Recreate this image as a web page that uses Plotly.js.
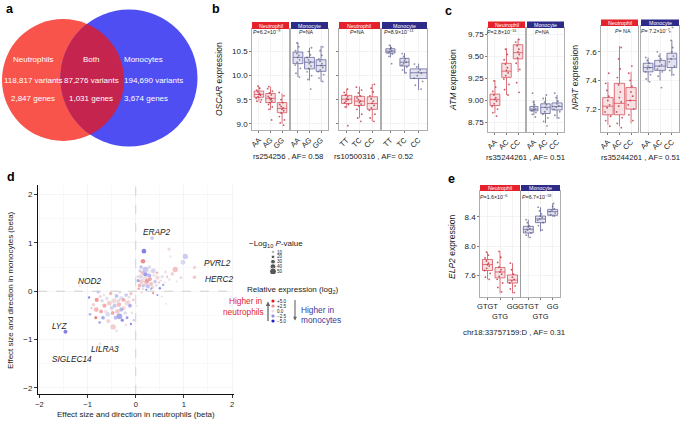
<!DOCTYPE html>
<html><head><meta charset="utf-8">
<script src="https://cdn.plot.ly/plotly-3.0.1.min.js"></script>
<style>html,body{margin:0;padding:0;background:#fff}#chart{width:685px;height:423px}</style>
</head><body><div id="chart"></div>
<script>
// ================= DATA =================
// panel a: Venn
const vennSets = ["Neutrophils", "Both", "Monocytes"];
const vennVariants = [118817, 87276, 194690];
const vennGenes = [2847, 1031, 3674];

// genotype categories
const genoOSCAR1 = ["AA", "AG", "GG"];
const genoOSCAR2 = ["TT", "TC", "CC"];
const genoATM = ["AA", "AC", "CC"];
const genoELP2 = ["GTGT", "GTG", "GG"];
const genoELP2Ticks = ["GTGT", "<br>GTG", "GG"];

// box stats per genotype: [lower whisker, q1, median, q3, upper whisker]
const oscar1Neu = [[9.46,9.55,9.61,9.68,9.77],[9.29,9.44,9.53,9.63,9.77],[9.00,9.23,9.32,9.44,9.63]];
const oscar1Mon = [[9.97,10.25,10.38,10.49,10.69],[9.90,10.14,10.28,10.38,10.58],[9.87,10.09,10.21,10.33,10.62]];
const oscar2Neu = [[9.32,9.42,9.51,9.59,9.73],[9.12,9.38,9.47,9.57,9.77],[9.05,9.30,9.42,9.56,9.83]];
const oscar2Mon = [[10.38,10.47,10.51,10.56,10.64],[10.04,10.20,10.28,10.36,10.47],[9.70,9.94,10.06,10.14,10.25]];
const atmNeu = [[8.85,8.94,9.01,9.07,9.23],[9.06,9.26,9.33,9.42,9.59],[9.32,9.47,9.54,9.63,9.70]];
const atmMon = [[8.83,8.88,8.90,8.93,9.00],[8.74,8.85,8.92,8.96,9.04],[8.79,8.89,8.93,8.97,9.06]];
const npatNeu = [[7.09,7.16,7.22,7.28,7.39],[7.08,7.16,7.24,7.38,7.64],[7.10,7.20,7.26,7.35,7.46]];
const npatMon = [[7.39,7.46,7.49,7.52,7.56],[7.40,7.47,7.50,7.54,7.59],[7.43,7.49,7.55,7.59,7.68]];
const elp2Neu = [[7.55,7.67,7.75,7.82,7.92],[7.36,7.57,7.65,7.71,7.93],[7.36,7.50,7.54,7.61,7.77]];
const elp2Mon = [[8.12,8.18,8.23,8.27,8.36],[8.20,8.32,8.37,8.41,8.53],[8.40,8.42,8.47,8.50,8.58]];

// individual samples (read approximately)
const oscar1NeuPts = [[9.78,9.74,9.70,9.66,9.63,9.61,9.59,9.56,9.53,9.50,9.47,9.45],
  [9.77,9.73,9.68,9.64,9.60,9.57,9.54,9.52,9.50,9.47,9.44,9.40,9.35,9.30,9.08],
  [9.65,9.58,9.50,9.44,9.40,9.36,9.33,9.30,9.27,9.22,9.15,9.08,9.02,8.97]];
const oscar1MonPts = [[10.68,10.60,10.52,10.46,10.42,10.38,10.33,10.28,10.22,10.15,10.05,9.97],
  [10.58,10.50,10.43,10.38,10.33,10.29,10.25,10.20,10.15,10.08,10.00,9.92,9.72],
  [10.60,10.52,10.42,10.35,10.30,10.25,10.21,10.17,10.12,10.08,10.02,9.95,9.88]];
const oscar2NeuPts = [[9.72,9.65,9.60,9.56,9.52,9.50,9.47,9.44,9.40,9.35,8.96],
  [9.76,9.70,9.64,9.58,9.54,9.50,9.47,9.44,9.41,9.37,9.30,9.20,9.12,9.05],
  [9.82,9.74,9.66,9.58,9.52,9.47,9.43,9.38,9.33,9.28,9.20,9.12,9.05]];
const oscar2MonPts = [[10.63,10.58,10.55,10.52,10.50,10.48,10.45,10.40,10.25],
  [10.46,10.40,10.35,10.31,10.28,10.25,10.22,10.18,10.12,10.06],
  [10.24,10.18,10.12,10.08,10.05,10.00,9.95,9.88,9.80,9.72]];
const atmNeuPts = [[9.22,9.15,9.10,9.06,9.03,9.01,8.99,8.96,8.93,8.90,8.86,8.82],
  [9.58,9.52,9.46,9.41,9.37,9.34,9.31,9.28,9.24,9.18,9.12,9.06],
  [9.69,9.66,9.62,9.58,9.55,9.52,9.48,9.42,9.35,9.20,9.09]];
const atmMonPts = [[9.08,8.98,8.95,8.92,8.90,8.89,8.88,8.86,8.84,8.81],
  [9.06,9.02,8.98,8.95,8.92,8.90,8.87,8.84,8.80,8.76,8.71],
  [9.08,9.03,8.99,8.96,8.94,8.92,8.90,8.87,8.83,8.80]];
const npatNeuPts = [[7.45,7.38,7.33,7.29,7.26,7.23,7.21,7.18,7.15,7.12,7.08],
  [7.63,7.55,7.48,7.42,7.37,7.32,7.28,7.25,7.22,7.18,7.14,7.10,7.07],
  [7.50,7.45,7.40,7.36,7.32,7.29,7.26,7.23,7.20,7.16,7.12]];
const npatMonPts = [[7.56,7.54,7.52,7.50,7.49,7.48,7.46,7.44,7.41,7.39],
  [7.60,7.57,7.55,7.53,7.51,7.50,7.48,7.46,7.43,7.35],
  [7.77,7.74,7.68,7.63,7.60,7.57,7.55,7.53,7.50,7.47,7.44]];
const elp2NeuPts = [[7.92,7.88,7.84,7.80,7.77,7.75,7.73,7.70,7.67,7.63,7.58,7.55],
  [7.93,7.85,7.78,7.72,7.68,7.65,7.62,7.59,7.55,7.50,7.44,7.38],
  [7.77,7.68,7.62,7.58,7.55,7.53,7.50,7.46,7.42,7.37]];
const elp2MonPts = [[8.36,8.32,8.28,8.26,8.24,8.22,8.20,8.18,8.15,8.12],
  [8.53,8.48,8.44,8.41,8.39,8.37,8.35,8.32,8.28,8.22],
  [8.58,8.54,8.51,8.49,8.47,8.45,8.43,8.41]];

// panel d: effect sizes (beta), -log10 P, relative expression (log2)
const namedGenes = ["ERAP2","PVRL2","HERC2","NOD2","LYZ","LILRA3","SIGLEC14"];
const namedBetaNeu = [0.34,1.22,1.22,-1.16,-1.46,-0.74,-1.37];
const namedBetaMono = [1.10,0.49,0.29,0.11,-0.84,-1.09,-1.28];
const namedLogP = [22,18,18,12,22,10,5];
const namedRel = [-1.5,1.0,1.8,0.3,-4.5,-0.5,0.0];

const upperBetaNeu = [0.17,0.15,0.20,0.36,0.28,0.69,0.72,1.03,0.98,0.82,
  0.76,0.94,0.70,0.57,0.50,0.36,0.54,0.63,0.22,0.62,
  0.55,0.45,0.40,0.32,0.25,0.12,0.10,0.08,0.15,0.18,
  0.22,0.28,0.35,0.42,0.48,0.05,0.06,0.12,0.30,0.38,
  0.26,0.14,0.09,0.20,0.32,0.44,0.52,0.60,0.65,0.16,
  0.24,0.04,0.11,0.40,0.85,0.45];
const upperBetaMono = [0.83,0.62,0.45,0.42,0.50,0.87,0.72,0.72,0.60,0.45,
  0.36,0.28,0.24,0.13,0.06,-0.04,-0.11,-0.26,0.03,0.40,
  0.30,0.28,0.20,0.15,0.10,0.20,0.30,0.12,0.05,0.28,
  0.18,0.32,0.08,0.12,0.18,0.22,0.05,-0.02,0.25,0.33,
  0.40,0.38,0.42,0.35,0.05,0.38,0.22,0.18,0.30,0.12,
  0.22,0.30,0.50,0.45,0.20,-0.08];
const upperLogP = [28,28,38,30,20,15,10,35,30,35,
  20,12,12,8,8,8,6,5,6,15,
  18,25,20,22,25,30,25,20,15,35,
  30,25,15,12,10,15,10,8,20,18,
  25,20,15,22,10,12,8,6,8,18,
  28,12,18,10,6,5];
const upperRel = [-4.5,4.0,-1.8,-1.2,-0.8,0.8,0.2,-1.5,-1.0,2.0,
  1.2,1.0,0.5,-3.0,-4.0,3.5,0.5,0.2,-4.0,0.5,
  -0.5,1.0,-1.5,2.0,-2.0,1.5,-1.0,2.5,-0.5,0.5,
  1.8,-2.5,1.2,-0.8,1.5,-3.0,3.0,0.8,3.0,-0.3,
  0.2,2.2,-1.5,-3.5,-2.5,2.5,0.8,-0.5,1.8,-1.8,
  2.8,0.8,-2.0,0.0,0.5,-3.5];

const lowerBetaNeu = [-0.34,-0.47,-0.81,-0.82,-0.83,-0.68,-0.57,-0.97,-0.74,-0.60,
  -0.55,-0.50,-0.45,-0.40,-0.35,-0.30,-0.25,-0.20,-0.15,-0.10,
  -0.12,-0.22,-0.65,-0.70,-0.62,-0.38,-0.42,-0.28,-0.18,-0.08,
  -0.05,-0.52,-0.33,-0.78,-0.88,-0.58,-0.48,-0.30,-0.18,-0.25,
  -0.44,-0.36,-0.14,-0.66,-0.72,-0.10,-0.20,-0.04,0.02,-0.92,
  -0.95,-0.75,-0.40];
const lowerBetaMono = [-0.52,-0.74,-0.18,-0.38,-0.55,-0.55,-0.62,-0.13,-0.11,-0.15,
  -0.25,-0.35,-0.20,-0.10,-0.28,-0.15,-0.35,-0.08,-0.22,-0.05,
  -0.30,-0.45,-0.30,-0.20,-0.42,-0.42,-0.55,-0.60,-0.55,-0.45,
  -0.18,-0.05,-0.02,-0.02,-0.28,-0.48,-0.45,-0.38,-0.25,-0.18,
  -0.30,-0.20,-0.12,-0.08,-0.42,-0.68,-0.70,-0.60,-0.30,-0.35,
  -0.48,-0.65,-0.82];
const lowerLogP = [38,35,25,30,12,20,25,8,15,20,
  30,25,35,22,30,28,25,20,25,15,
  20,18,25,18,22,28,22,15,12,10,
  12,18,12,10,15,30,20,25,30,20,
  22,18,15,12,20,8,8,6,5,8,
  12,10,12];
const lowerRel = [-3.0,1.5,3.5,2.5,5.0,-3.0,1.2,-4.0,1.0,-0.5,
  1.5,-1.2,0.8,-2.0,2.2,-0.8,1.0,-1.5,0.5,2.0,
  -3.0,-1.0,2.8,-1.0,0.3,1.8,-2.2,-4.0,-3.5,0.5,
  1.5,2.5,-1.0,-2.0,1.5,-0.8,3.0,-2.5,0.8,2.8,
  -1.8,1.0,-0.5,0.5,3.0,-4.0,0.8,-2.0,0.5,2.0,
  -2.5,-3.5,0.5];

const legendLogP = [10, 20, 30, 40, 50];
const legendRel = [5, 2.5, 0, -2.5, -5];
const legendRelText = ["+5.0", "+2.5", "0.0", "\u22122.5", "\u22125.0"];

// ================= RENDER =================
const W = 685, H = 423;
const FONT = "Liberation Sans, Arial, Helvetica, sans-serif";
const PX = x => x / W, PY = y => 1 - y / H;
const data = [];
const shapes = [];
const ann = [];
const layout = {
  width: W, height: H, margin: {l: 0, r: 0, t: 0, b: 0},
  paper_bgcolor: '#ffffff', plot_bgcolor: '#ffffff', showlegend: false,
  boxmode: 'overlay', font: {family: FONT, color: '#222', size: 8}
};
function txt(x, y, text, size, opts) {
  ann.push(Object.assign({xref: 'paper', yref: 'paper', x: PX(x), y: PY(y), text: text,
    showarrow: false, xanchor: 'center', yanchor: 'middle', font: {size: size, color: '#222', family: FONT}}, opts || {}));
}
const sfx = n => n === 1 ? '' : String(n);

// ---- Venn (a) ----
const cA = {x: 63, y: 80, r: 61}, cB = {x: 129, y: 78, r: 68.5};
const redC = 'rgb(248,84,76)', blueC = 'rgb(78,78,242)', bothC = 'rgb(196,36,78)';
[[cA, redC], [cB, blueC]].forEach(([c, col]) => shapes.push({type: 'circle', xref: 'paper', yref: 'paper',
  x0: PX(c.x - c.r), x1: PX(c.x + c.r), y0: PY(c.y + c.r), y1: PY(c.y - c.r), fillcolor: col, line: {width: 0}}));
(function () {
  const dx = cB.x - cA.x, dy = cB.y - cA.y, d = Math.hypot(dx, dy);
  const a = (cA.r * cA.r - cB.r * cB.r + d * d) / (2 * d), h = Math.sqrt(cA.r * cA.r - a * a);
  const mx = cA.x + a * dx / d, my = cA.y + a * dy / d;
  const p1 = {x: mx + h * dy / d, y: my - h * dx / d}, p2 = {x: mx - h * dy / d, y: my + h * dx / d};
  const pts = [];
  let t1 = Math.atan2(p1.y - cA.y, p1.x - cA.x), t2 = Math.atan2(p2.y - cA.y, p2.x - cA.x);
  if (t2 < t1) { const tmp = t1; t1 = t2; t2 = tmp; }
  for (let i = 0; i <= 60; i++) { const t = t1 + (t2 - t1) * i / 60; pts.push([cA.x + cA.r * Math.cos(t), cA.y + cA.r * Math.sin(t)]); }
  let s1 = Math.atan2(pts[60][1] - cB.y, pts[60][0] - cB.x), s2 = Math.atan2(pts[0][1] - cB.y, pts[0][0] - cB.x);
  if (s2 < s1) s2 += 2 * Math.PI;
  for (let i = 0; i <= 60; i++) { const t = s1 + (s2 - s1) * i / 60; pts.push([cB.x + cB.r * Math.cos(t), cB.y + cB.r * Math.sin(t)]); }
  const path = 'M' + pts.map(p => PX(p[0]).toFixed(5) + ',' + PY(p[1]).toFixed(5)).join('L') + 'Z';
  shapes.push({type: 'path', xref: 'paper', yref: 'paper', path: path, fillcolor: bothC, line: {width: 0}});
})();
const vennX = [33, 91, 122], vennAnchor = ['center', 'center', 'left'];
vennSets.forEach((s, i) => {
  const o = {xanchor: vennAnchor[i], font: {size: 8, color: '#fff', family: FONT}};
  txt(vennX[i], 60, s, 8, o);
  txt(vennX[i], 80, vennVariants[i].toLocaleString('en-US') + ' variants', 8, o);
  txt(vennX[i], 98, vennGenes[i].toLocaleString('en-US') + ' genes', 8, o);
});

// ---- box panels (b, c, e) ----
const NEU = {fill: 'rgba(238,190,196,0.45)', line: '#d8505c', pt: 'rgba(185,35,55,0.75)', strip: '#e5222c', name: 'Neutrophil'};
const MON = {fill: 'rgba(196,196,222,0.45)', line: '#66669e', pt: 'rgba(70,70,100,0.6)', strip: '#2d2a88', name: 'Monocyte'};
const yOSC = {r: [8.87, 10.97], v: [9, 9.5, 10, 10.5], t: ["9.0", "9.5", "10.0", "10.5"]};
const yATM = {r: [8.64, 9.82], v: [8.75, 9, 9.25, 9.5, 9.75], t: ["8.75", "9.00", "9.25", "9.50", "9.75"]};
const yNPAT = {r: [7.04, 7.78], v: [7.2, 7.4, 7.6], t: ["7.2", "7.4", "7.6"]};
const yELP = {r: [7.31, 8.75], v: [7.6, 8.0, 8.4], t: ["7.6", "8.0", "8.4"]};
const panels = [
  {n: 1, x: [252, 289], y: [29, 130], st: 22, cats: genoOSCAR1, tt: genoOSCAR1, box: oscar1Neu, pts: oscar1NeuPts, c: NEU, ya: yOSC, lab: true, tk: true, w: [0.82, 0.82, 0.82], ang: -45, p: "<i>P</i>=6.2×10<sup>−9</sup>", px: 266, py: 32.5},
  {n: 2, x: [291, 328], y: [29, 130], st: 22, cats: genoOSCAR1, tt: genoOSCAR1, box: oscar1Mon, pts: oscar1MonPts, c: MON, ya: yOSC, lab: false, tk: false, w: [0.85, 0.85, 0.85], ang: -45, p: "<i>P</i>=NA", px: 306, py: 32.5},
  {n: 3, x: [339, 380], y: [29, 130], st: 22, cats: genoOSCAR2, tt: genoOSCAR2, box: oscar2Neu, pts: oscar2NeuPts, c: NEU, ya: yOSC, lab: false, tk: true, w: [0.8, 0.8, 0.8], ang: -45, p: "<i>P</i>=NA", px: 357, py: 32.5},
  {n: 4, x: [382, 427], y: [29, 130], st: 22, cats: genoOSCAR2, tt: genoOSCAR2, box: oscar2Mon, pts: oscar2MonPts, c: MON, ya: yOSC, lab: false, tk: false, w: [0.65, 0.65, 1.2], ang: -45, p: "<i>P</i>=8.9×10<sup>−13</sup>", px: 398, py: 32.5},
  {n: 5, x: [488, 525], y: [28, 132], st: 21.5, cats: genoATM, tt: genoATM, box: atmNeu, pts: atmNeuPts, c: NEU, ya: yATM, lab: true, tk: true, w: [0.85, 0.82, 0.82], ang: -45, p: "<i>P</i>=2.8×10<sup>−16</sup>", px: 501, py: 32.5},
  {n: 6, x: [527, 564], y: [28, 132], st: 21.5, cats: genoATM, tt: genoATM, box: atmMon, pts: atmMonPts, c: MON, ya: yATM, lab: false, tk: false, w: [0.7, 0.82, 0.88], ang: -45, p: "<i>P</i>=NA", px: 542, py: 32.5},
  {n: 7, x: [601, 638], y: [26, 132], st: 19.5, cats: genoATM, tt: genoATM, box: npatNeu, pts: npatNeuPts, c: NEU, ya: yNPAT, lab: true, tk: true, w: [0.9, 0.9, 0.88], ang: -45, p: "<i>P</i>= NA", px: 623, py: 31},
  {n: 8, x: [641, 679], y: [26, 132], st: 19.5, cats: genoATM, tt: genoATM, box: npatMon, pts: npatMonPts, c: MON, ya: yNPAT, lab: false, tk: false, w: [0.82, 0.9, 0.82], ang: -45, p: "<i>P</i>= 7.2×10<sup>−7</sup>", px: 655, py: 31},
  {n: 9, x: [480, 520], y: [191, 297], st: 185, cats: genoELP2, tt: genoELP2Ticks, box: elp2Neu, pts: elp2NeuPts, c: NEU, ya: yELP, lab: true, tk: true, w: [0.8, 0.8, 0.8], ang: 0, p: "<i>P</i>=1.6×10<sup>−6</sup>", px: 493, py: 197.5},
  {n: 10, x: [521, 560], y: [191, 297], st: 185, cats: genoELP2, tt: genoELP2Ticks, box: elp2Mon, pts: elp2MonPts, c: MON, ya: yELP, lab: false, tk: false, w: [0.82, 0.82, 0.82], ang: 0, p: "<i>P</i>=6.7×10<sup>−18</sup>", px: 536, py: 197.5}
];
panels.forEach(p => {
  const s = sfx(p.n);
  layout['xaxis' + s] = {domain: [PX(p.x[0]), PX(p.x[1])], anchor: 'y' + s, type: 'category',
    categoryorder: 'array', categoryarray: p.cats, range: [-0.6, p.cats.length - 0.4],
    tickvals: p.cats, ticktext: p.tt, tickangle: p.ang, tickfont: {size: 7.5, color: '#222'},
    ticks: 'outside', ticklen: 2, tickcolor: '#444', tickwidth: 0.7,
    showline: true, mirror: true, linecolor: '#9a9a9a', linewidth: 0.8,
    showgrid: true, gridcolor: '#ebebeb', gridwidth: 0.6, zeroline: false, fixedrange: true};
  layout['yaxis' + s] = {domain: [PY(p.y[1]), PY(p.y[0])], anchor: 'x' + s, range: p.ya.r,
    tickvals: p.ya.v, ticktext: p.ya.t, showticklabels: p.lab, ticks: p.tk ? 'outside' : '',
    ticklen: 2, tickcolor: '#444', tickwidth: 0.7, tickfont: {size: 8, color: '#222'},
    showline: true, mirror: true, linecolor: '#9a9a9a', linewidth: 0.8,
    showgrid: true, gridcolor: '#ebebeb', gridwidth: 0.6, zeroline: false, fixedrange: true};
  p.cats.forEach((c, i) => {
    const b = p.box[i];
    data.push({type: 'box', xaxis: 'x' + s, yaxis: 'y' + s, x: [c], lowerfence: [b[0]], q1: [b[1]],
      median: [b[2]], q3: [b[3]], upperfence: [b[4]], width: p.w[i], fillcolor: p.c.fill,
      line: {color: p.c.line, width: 0.8}, whiskerwidth: 0, boxpoints: false, hoverinfo: 'skip'});
    data.push({type: 'box', xaxis: 'x' + s, yaxis: 'y' + s, x: p.pts[i].map(() => c), y: p.pts[i],
      width: p.w[i] * 0.9, boxpoints: 'all', jitter: 0.75, pointpos: 0,
      fillcolor: 'rgba(0,0,0,0)', line: {width: 0, color: 'rgba(0,0,0,0)'},
      marker: {size: 1.8, color: p.c.pt}, hoverinfo: 'skip'});
  });
  shapes.push({type: 'rect', xref: 'paper', yref: 'paper', x0: PX(p.x[0]), x1: PX(p.x[1]),
    y0: PY(p.y[0]), y1: PY(p.st), fillcolor: p.c.strip, line: {width: 0}});
  txt((p.x[0] + p.x[1]) / 2, (p.y[0] + p.st) / 2, p.c.name, 5.3, {font: {size: 5.3, color: '#fff', family: FONT}});
  txt(p.px, p.py, p.p, 5.3);
});
// axis titles and captions
txt(219, 79, "<i>OSCAR</i> expression", 8.5, {textangle: -90});
txt(453, 80, "<i>ATM</i> expression", 8.5, {textangle: -90});
txt(575, 78, "<i>NPAT</i> expression", 8.5, {textangle: -90});
txt(452, 246, "<i>ELP2</i> expression", 8.5, {textangle: -90});
txt(288, 156, "rs254256 , AF= 0.58", 7.8);
txt(373, 156, "rs10500316 , AF= 0.52", 7.8);
txt(525, 157, "rs35244261 , AF= 0.51", 7.8);
txt(640, 157, "rs35244261 , AF= 0.51", 7.8);
txt(514, 332, "chr18:33757159:D , AF= 0.31", 7.8);

// ---- scatter (d) ----
const allNeu = namedBetaNeu.concat(upperBetaNeu, lowerBetaNeu);
const allMono = namedBetaMono.concat(upperBetaMono, lowerBetaMono);
const allLogP = namedLogP.concat(upperLogP, lowerLogP);
const allRel = namedRel.concat(upperRel, lowerRel);
const sizeOf = v => 1.5 + v * 0.11;
const cscale = [[0, '#1c1cd8'], [0.25, '#8c8ce4'], [0.5, '#e4e4e8'], [0.75, '#ee8a8a'], [1, '#de1c1c']];
data.push({type: 'scatter', mode: 'markers', xaxis: 'x11', yaxis: 'y11', x: allNeu, y: allMono,
  marker: {size: allLogP.map(sizeOf), color: allRel, colorscale: cscale, cmin: -5, cmax: 5, opacity: 0.62, line: {width: 0}},
  hoverinfo: 'skip'});
layout.xaxis11 = {domain: [PX(38), PX(233.5)], anchor: 'y11', range: [-2.03, 2.03], tickvals: [-2, -1, 0, 1, 2],
  ticktext: ['\u22122', '\u22121', '0', '1', '2'], ticks: 'outside', ticklen: 2.5, tickcolor: '#000', tickwidth: 0.8,
  showline: true, linecolor: '#111', linewidth: 1, showgrid: true, gridcolor: '#f0f0f0', gridwidth: 0.6,
  minor: {showgrid: true, dtick: 0.5, gridcolor: '#f4f4f4', gridwidth: 0.5}, zeroline: false,
  tickfont: {size: 7.5, color: '#222'}, fixedrange: true};
layout.yaxis11 = {domain: [PY(394), PY(185)], anchor: 'x11', range: [-2.13, 2.2], tickvals: [-2, -1, 0, 1, 2],
  ticktext: ['\u22122', '\u22121', '0', '1', '2'], ticks: 'outside', ticklen: 3, tickcolor: '#000', tickwidth: 0.8,
  showline: true, linecolor: '#111', linewidth: 1, showgrid: true, gridcolor: '#f0f0f0', gridwidth: 0.6,
  minor: {showgrid: true, dtick: 0.5, gridcolor: '#f4f4f4', gridwidth: 0.5}, zeroline: false,
  tickfont: {size: 8, color: '#222'}, fixedrange: true};
shapes.push({type: 'line', xref: 'x11', yref: 'y11', x0: 0, x1: 0, y0: -2.13, y1: 2.2, line: {color: '#c8c8c8', width: 0.8, dash: 'dash'}});
shapes.push({type: 'line', xref: 'x11', yref: 'y11', x0: -2.03, x1: 2.03, y0: 0, y1: 0, line: {color: '#c8c8c8', width: 0.8, dash: 'dash'}});
const geneLblPos = [[157, 232], [217, 263], [219, 279], [89, 281], [59, 326], [105, 349], [72, 359]];
namedGenes.forEach((g, i) => txt(geneLblPos[i][0], geneLblPos[i][1], '<i>' + g + '</i>', 8.3));
txt(136, 414, "Effect size and direction in neutrophils (beta)", 8);
txt(10, 290, "Effect size and direction in monocytes (beta)", 8, {textangle: -90});

// legends for d
layout.xaxis12 = {domain: [PX(270), PX(276)], anchor: 'y12', range: [-1, 1], visible: false, fixedrange: true};
layout.yaxis12 = {domain: [PY(274), PY(249.5)], anchor: 'x12', range: [55, 5], side: 'right', showgrid: false,
  zeroline: false, showline: false, ticks: '', tickvals: legendLogP, ticktext: legendLogP.map(String),
  tickfont: {size: 4.6, color: '#222'}, fixedrange: true};
data.push({type: 'scatter', mode: 'markers', xaxis: 'x12', yaxis: 'y12', x: legendLogP.map(() => 0), y: legendLogP,
  marker: {size: legendLogP.map(sizeOf), color: '#111'}, hoverinfo: 'skip'});
layout.xaxis13 = {domain: [PX(270), PX(276)], anchor: 'y13', range: [-1, 1], visible: false, fixedrange: true};
layout.yaxis13 = {domain: [PY(323), PY(299)], anchor: 'x13', range: [-6, 6], side: 'right', showgrid: false,
  zeroline: false, showline: false, ticks: '', tickvals: legendRel, ticktext: legendRelText,
  tickfont: {size: 4.6, color: '#222'}, fixedrange: true};
data.push({type: 'scatter', mode: 'markers', xaxis: 'x13', yaxis: 'y13', x: legendRel.map(() => 0), y: legendRel,
  marker: {size: 3.2, color: legendRel, colorscale: cscale, cmin: -5, cmax: 5}, hoverinfo: 'skip'});
txt(247, 244, "\u2212Log<sub>10</sub> <i>P</i>-value", 8, {xanchor: 'left'});
txt(245, 290, "Relative expression (log<sub>2</sub>)", 8, {xanchor: 'left'});
txt(265, 301, "Higher in", 8.3, {xanchor: 'right', font: {size: 8.3, color: '#e0242c', family: FONT}});
txt(266, 312, "neutrophils", 8.3, {xanchor: 'right', font: {size: 8.3, color: '#e0242c', family: FONT}});
txt(299, 310, "Higher in", 8.3, {xanchor: 'left', font: {size: 8.3, color: '#3a3a9a', family: FONT}});
txt(299, 320, "monocytes", 8.3, {xanchor: 'left', font: {size: 8.3, color: '#3a3a9a', family: FONT}});
ann.push({xref: 'paper', yref: 'paper', x: PX(268), y: PY(301.5), ax: 0, ay: 21, text: '', showarrow: true,
  arrowhead: 2, arrowsize: 0.7, arrowwidth: 1.3, arrowcolor: '#666'});
ann.push({xref: 'paper', yref: 'paper', x: PX(295), y: PY(320.5), ax: 0, ay: -22, text: '', showarrow: true,
  arrowhead: 2, arrowsize: 0.7, arrowwidth: 1.1, arrowcolor: '#666'});

// panel letters
[['a', 9.5, 9], ['b', 216, 9], ['c', 448, 11], ['d', 11, 177], ['e', 451, 179]].forEach(l =>
  txt(l[1], l[2], '<b>' + l[0] + '</b>', 12.5, {font: {size: 12.5, color: '#000', family: FONT}}));

layout.shapes = shapes;
layout.annotations = ann;
Plotly.newPlot('chart', data, layout, {staticPlot: true, displayModeBar: false});
</script>
</body></html>
